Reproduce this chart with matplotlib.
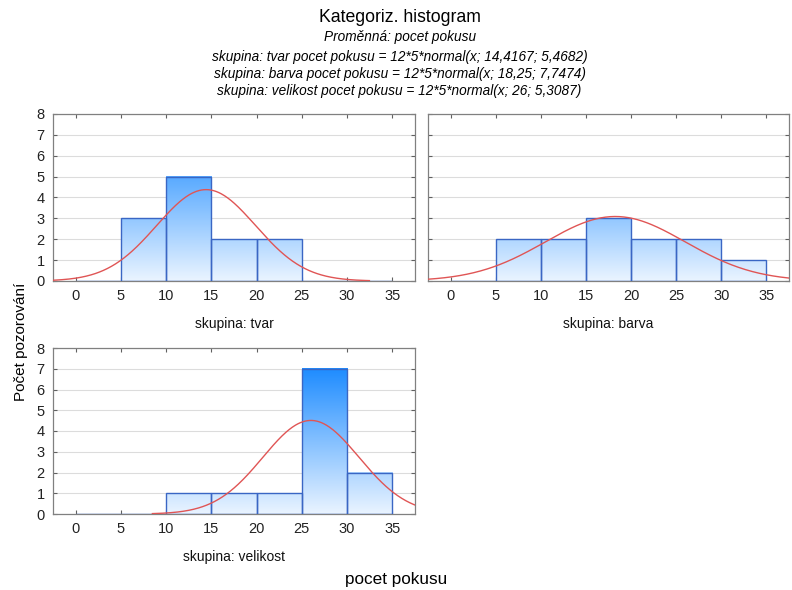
import numpy as np
import matplotlib
matplotlib.use("Agg")
import matplotlib.pyplot as plt
from matplotlib.colors import LinearSegmentedColormap

plt.rcParams['font.family'] = ['Liberation Sans', 'DejaVu Sans']

# ---- data ----
bin_edges = [0, 5, 10, 15, 20, 25, 30, 35]
groups = ["tvar", "barva", "velikost"]
counts_tvar = [0, 3, 5, 2, 2, 0, 0]
counts_barva = [0, 2, 2, 3, 2, 2, 1]
counts_velikost = [0, 0, 1, 1, 1, 7, 2]
means = [14.4167, 18.25, 26.0]
sds = [5.4682, 7.7474, 5.3087]
n_obs = 12
bin_width = 5
eq_labels = ["14,4167; 5,4682", "18,25; 7,7474", "26; 5,3087"]
x_ticks = [0, 5, 10, 15, 20, 25, 30, 35]
y_ticks = [0, 1, 2, 3, 4, 5, 6, 7, 8]
all_counts = [counts_tvar, counts_barva, counts_velikost]

W, H = 792, 590
fig = plt.figure(figsize=(W / 100, H / 100), dpi=100)

def px_axes(left, top, right, bottom):
    return fig.add_axes([left / W, 1 - bottom / H, (right - left) / W, (bottom - top) / H])

axes = [px_axes(53, 114, 415, 281), px_axes(428, 114, 789, 281), px_axes(53, 348, 415, 514)]

cmap = LinearSegmentedColormap.from_list("bl", ["#eaf4ff", "#1e8cff"])
edges = np.array(bin_edges)

for i, ax in enumerate(axes):
    counts = all_counts[i]
    ax.set_xlim(-2.5, 37.5)
    ax.set_ylim(0, 8)
    ax.set_yticks(y_ticks)
    ax.set_xticks(x_ticks)
    ax.grid(axis='y', color='#dcdcdc', linewidth=0.8)
    ax.set_axisbelow(True)
    for j, c in enumerate(counts):
        if c <= 0:
            continue
        x0, x1 = edges[j], edges[j + 1]
        grad = np.linspace(0, c, 200).reshape(-1, 1)
        ax.imshow(grad, extent=[x0, x1, 0, c], origin='lower', cmap=cmap,
                  vmin=0, vmax=7, aspect='auto', zorder=2, interpolation='bilinear')
    ax.bar(edges[:-1], counts, width=bin_width, align='edge', fill=False,
           edgecolor='#3a66c4', linewidth=1.0, zorder=3)
    m, s = means[i], sds[i]
    xs = np.linspace(m - 3.3 * s, m + 3.3 * s, 400)
    ys = n_obs * bin_width * np.exp(-0.5 * ((xs - m) / s) ** 2) / (s * np.sqrt(2 * np.pi))
    ax.plot(xs, ys, color='#e05555', linewidth=1.0, zorder=4, clip_on=True)
    ax.set_xlim(-2.5, 37.5)
    ax.set_ylim(0, 8)
    for sp in ax.spines.values():
        sp.set_color('#808080')
        sp.set_linewidth(0.9)
    ax.tick_params(direction='in', top=True, right=True, length=3, color='#606060',
                   labelsize=10.5, labelcolor='#222222', pad=6)
    if i == 1:
        ax.tick_params(labelleft=False)
    ax.set_xlabel("skupina: " + groups[i], fontsize=10, labelpad=10, color='#111111')

cx = 0.5045
fig.text(cx, 0.9695, "Kategoriz. histogram", ha='center', va='center', fontsize=12.7)
fig.text(cx, 0.937, "Proměnná: pocet pokusu", ha='center', va='center', fontsize=9.8, style='italic')
eq_y = [0.903, 0.875, 0.846]
for k, g in enumerate(groups):
    fig.text(cx, eq_y[k],
             "skupina: %s pocet pokusu = 12*5*normal(x; %s)" % (g, eq_labels[k]),
             ha='center', va='center', fontsize=9.8, style='italic')

fig.text(0.5, 0.017, "pocet pokusu", ha='center', va='center', fontsize=12.3)
fig.text(0.026, 0.42, "Počet pozorování", ha='center', va='center', rotation=90, fontsize=11)

fig.savefig("out.png", dpi=100)
